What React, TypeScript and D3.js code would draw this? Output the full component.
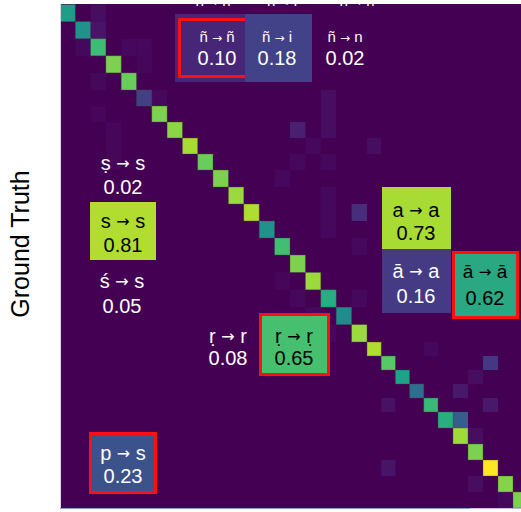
import React from 'react';
import * as d3 from 'd3';

const W = 521;
const H = 512;

// Matrix indices visible in the crop
const N = 31;
const INDEX = d3.range(N);

const DIAG = [0.51, 0.46, 0.63, 0.74, 0.71, 0.17, 0.74, 0.76, 0.80, 0.71, 0.74, 0.78, 0.81, 0.46, 0.64, 0.74,
  0.78, 0.57, 0.44, 0.78, 0.81, 0.68, 0.53, 0.33, 0.62, 0.58, 0.79, 0.74, 0.92, 0.75, 0.74];

// Off-diagonal non-zero cells: row, col, value
const OFF_ROW = [0, 1, 2, 2, 2, 4, 5, 5, 6, 6, 7, 7, 8, 8, 8, 9, 9, 10, 11, 12, 12, 17, 17, 18, 21, 22, 23, 24, 24, 25, 26, 28, 29, 30, 3, 7, 9, 13, 14, 16, 19, 20];
const OFF_COL = [2, 2, 1, 4, 5, 2, 6, 17, 17, 2, 15, 17, 20, 16, 3, 15, 17, 14, 17, 19, 17, 19, 15, 16, 28, 27, 26, 21, 28, 26, 27, 21, 27, 29, 5, 3, 3, 17, 19, 14, 17, 24];
const OFF_VAL = [0.03, 0.05, 0.02, 0.02, 0.02, 0.02, 0.02, 0.03, 0.03, 0.015, 0.08, 0.03, 0.03, 0.02, 0.015, 0.02, 0.02, 0.02, 0.02, 0.12, 0.02, 0.02, 0.02, 0.02, 0.15, 0.03, 0.06, 0.04, 0.06, 0.27, 0.03, 0.05, 0.03, 0.02, 0.015, 0.015, 0.015, 0.02, 0.02, 0.015, 0.02, 0.02];

// Callout annotations
const CALL_FROM = ['ñ', 'ñ', 'ñ', 'ṣ', 's', 'ś', 'a', 'ā', 'ā', 'ṛ', 'ṛ', 'p'];
const CALL_TO = ['ñ', 'i', 'n', 's', 's', 's', 'a', 'a', 'ā', 'r', 'ṛ', 's'];
const CALL_VAL = [0.10, 0.18, 0.02, 0.02, 0.81, 0.05, 0.73, 0.16, 0.62, 0.08, 0.65, 0.23];

// Cut-off callouts at the very top
const TOP_FROM = ['ñ', 'ñ', 'ñ'];
const TOP_TO = ['ñ', 'i', 'n'];

// ---- layout (positions & styles only) ----
type Lay = { cx: number; b1: number; b2: number; box?: number[]; red?: boolean; ls: number; vs: number; fill?: string };
const LAYOUT: Lay[] = [
  { cx: 217, b1: 42, b2: 65, box: [175, 14, 245, 82], red: true, ls: 15, vs: 20 },
  { cx: 277, b1: 42, b2: 65, box: [245, 14, 312, 82], ls: 15, vs: 20 },
  { cx: 345, b1: 42, b2: 65, ls: 15, vs: 20 },
  { cx: 123, b1: 170, b2: 194, ls: 20, vs: 20 },
  { cx: 123, b1: 228, b2: 252, box: [90, 202, 156, 260], ls: 20, vs: 20 },
  { cx: 122, b1: 288, b2: 313, ls: 20, vs: 20 },
  { cx: 416, b1: 217, b2: 240, box: [382, 187, 451, 249], ls: 20, vs: 20, fill: '#a8db34' },
  { cx: 416, b1: 278, b2: 303, box: [382, 249, 451, 313], ls: 20, vs: 20 },
  { cx: 485, b1: 278, b2: 305, box: [452, 251, 519, 319], red: true, ls: 19, vs: 20, fill: '#2aa882' },
  { cx: 228, b1: 343, b2: 365, ls: 20, vs: 20 },
  { cx: 294, b1: 343, b2: 365, box: [259, 313, 330, 376], red: true, ls: 20, vs: 20 },
  { cx: 123, b1: 460, b2: 483, box: [89, 432, 157, 494], red: true, ls: 20, vs: 20 },
];
const TOP_CX = [213, 282, 357];

const FONT = "'Liberation Sans', Arial, 'DejaVu Sans', sans-serif";

function Label({ from, to }: { from: string; to: string }) {
  return (
    <>
      {from + ' '}
      <tspan fontFamily="'DejaVu Sans', sans-serif" fontSize="0.8em" dy="-0.04em">→</tspan>
      <tspan dy="0.04em">{' ' + to}</tspan>
    </>
  );
}

export default function App() {
  // the source image is resampled non-uniformly; piecewise-linear scales follow it
  const x = d3.scaleLinear().domain([0, 10, 15, 20, 25, 30, 31]).range([60, 213, 290, 367, 438, 513, 528]);
  const y = d3.scaleLinear().domain([0, 5, 10, 15, 20, 25, 30, 31]).range([4.5, 90, 170, 255, 342, 412, 492, 508]);
  const color = d3.scaleSequential(d3.interpolateViridis).domain([0, 0.92]);

  const cells: { r: number; c: number; v: number; diag: boolean }[] = [];
  OFF_ROW.forEach((r, i) => cells.push({ r, c: OFF_COL[i], v: OFF_VAL[i], diag: false }));
  INDEX.forEach((i) => cells.push({ r: i, c: i, v: DIAG[i], diag: true }));

  const plotX0 = 60, plotY0 = 4, plotX1 = W, plotY1 = 508.5;

  return (
    <svg width={W} height={H} style={{ position: 'absolute', left: 0, top: 0, background: '#fff' }}
      fontFamily={FONT}>
      <defs>
        <clipPath id="plot">
          <rect x={plotX0} y={plotY0} width={plotX1 - plotX0} height={plotY1 - plotY0} />
        </clipPath>
      </defs>
      <g clipPath="url(#plot)">
        <rect x={plotX0} y={plotY0} width={plotX1 - plotX0} height={plotY1 - plotY0} fill={color(0)} />
        {cells.map((d, i) => (
          <rect key={i} x={x(d.c)} y={y(d.r)} width={x(d.c + 1) - x(d.c)} height={y(d.r + 1) - y(d.r)}
            fill={color(d.v)}
            stroke={d.diag ? 'rgba(70,70,60,0.45)' : 'none'} strokeWidth={d.diag ? 0.8 : 0} />
        ))}
        {TOP_FROM.map((f, i) => (
          <text key={'t' + i} x={TOP_CX[i]} y={6} textAnchor="middle" fill="#fff" fontSize={15}>
            <Label from={f} to={TOP_TO[i]} />
          </text>
        ))}
      </g>
      <line x1={60.5} x2={60.5} y1={4} y2={508} stroke="#d6d6e4" strokeWidth={1} />
      <line x1={60} x2={470} y1={508.5} y2={508.5} stroke="#8a96c8" strokeWidth={1} />

      {CALL_FROM.map((f, i) => {
        const L = LAYOUT[i];
        const v = CALL_VAL[i];
        const fill = L.box ? (L.fill || color(v)) : null;
        const t = v / 0.92;
        const txt = L.box && t > 0.5 ? '#000' : '#fff';
        return (
          <g key={'c' + i}>
            {L.box && (
              <rect x={L.box[0]} y={L.box[1]} width={L.box[2] - L.box[0]} height={L.box[3] - L.box[1]} fill={fill as string} />
            )}
            {L.box && L.red && (
              <rect x={L.box[0] + (i === 0 ? 4.5 : 1.5)} y={L.box[1] + (i === 0 ? 5.5 : 1.5)}
                width={L.box[2] - L.box[0] - 3} height={L.box[3] - L.box[1] - (i === 0 ? 11 : 3)}
                fill="none" stroke="#ff1010" strokeWidth={3} />
            )}
            <text x={L.cx} y={L.b1} textAnchor="middle" fill={txt} fontSize={L.ls}>
              <Label from={f} to={CALL_TO[i]} />
            </text>
            <text x={L.cx} y={L.b2} textAnchor="middle" fill={txt} fontSize={L.vs}>{d3.format('.2f')(v)}</text>
          </g>
        );
      })}

      <text transform="translate(29,244) rotate(-90)" textAnchor="middle" fontSize={25} fill="#000">Ground Truth</text>
    </svg>
  );
}
